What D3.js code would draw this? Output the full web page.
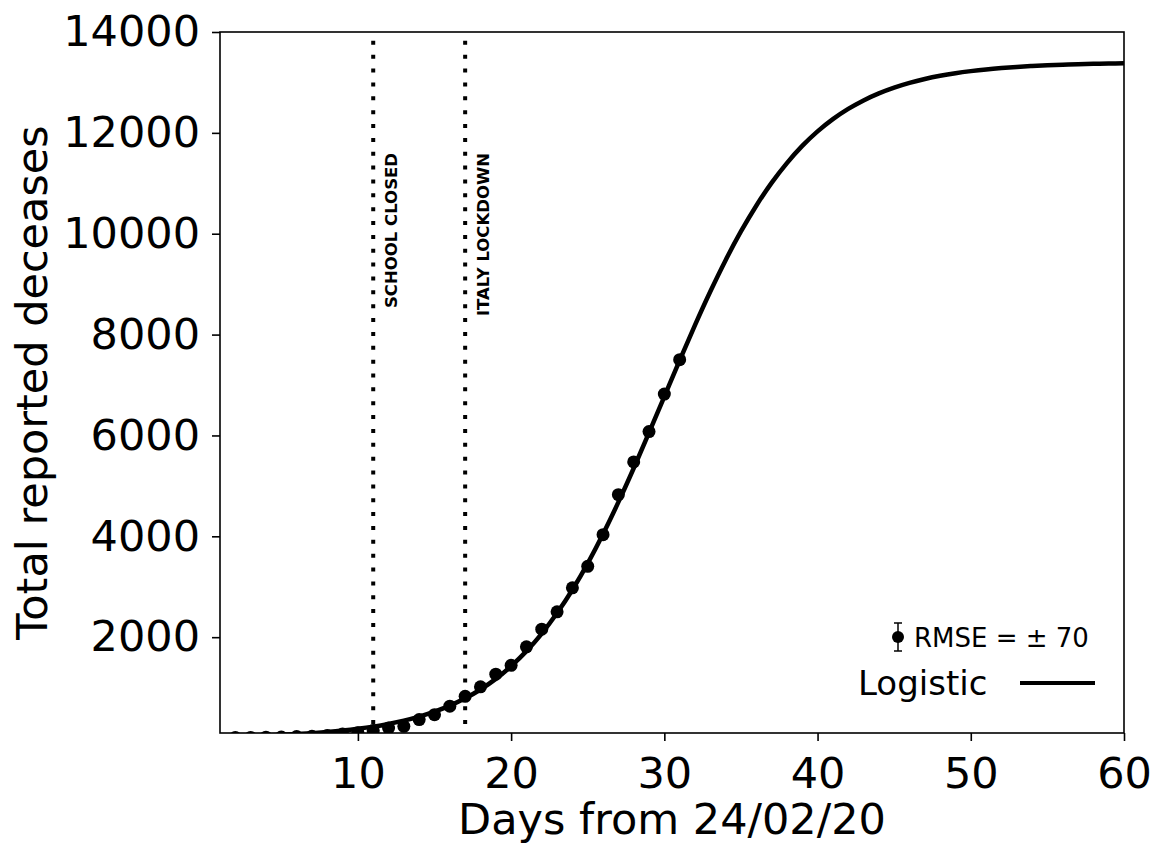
<!DOCTYPE html>
<html>
<head>
<meta charset="utf-8">
<script src="https://cdn.jsdelivr.net/npm/d3@7"></script>
<style>
  html, body { margin: 0; padding: 0; background: #fff; }
  svg { display: block; font-family: "DejaVu Sans", sans-serif; }
</style>
</head>
<body>
<div id="chart"></div>
<script>
// reported deaths, days counted from 24/02/20
const obsDays = [2, 3, 4, 5, 6, 7, 8, 9, 10, 11, 12, 13, 14, 15, 16, 17, 18, 19, 20, 21, 22, 23, 24, 25, 26, 27, 28, 29, 30, 31];
const obsDeaths = [10, 12, 17, 21, 29, 34, 52, 79, 107, 148, 197, 233, 366, 463, 631, 827, 1016, 1266, 1441, 1809, 2158, 2503, 2978, 3405, 4032, 4825, 5476, 6077, 6820, 7503];

// logistic fit
const fitDays = d3.range(1, 61);
const fitValues = [27, 33, 41, 51, 63, 78, 97, 120, 148, 183, 226, 280, 345, 425, 523, 642, 787, 963, 1173, 1426,
  1723, 2072, 2478, 2941, 3464, 4045, 4677, 5350, 6054, 6772, 7489, 8188, 8854, 9476, 10045, 10556, 11008, 11401, 11741, 12029,
  12272, 12475, 12644, 12784, 12898, 12992, 13069, 13132, 13183, 13224, 13258, 13285, 13307, 13325, 13340, 13351, 13361, 13368, 13374, 13379];

const events = [
  { day: 11, label: "SCHOOL CLOSED" },
  { day: 17, label: "ITALY LOCKDOWN" },
];
const xTicks = [10, 20, 30, 40, 50, 60];
const yTicks = [2000, 4000, 6000, 8000, 10000, 12000, 14000];
const rmse = 70;

const width = 1153, height = 845;
const margin = { top: 32, right: 29, bottom: 112, left: 220 };

const svg = d3.select("#chart").append("svg").attr("width", width).attr("height", height);

const x = d3.scaleLinear().domain([1, 60]).range([margin.left, width - margin.right]);
const y = d3.scaleLinear().domain([100, 14000]).range([height - margin.bottom, margin.top]);

svg.append("defs").append("clipPath").attr("id", "plot-clip")
  .append("rect")
  .attr("x", x.range()[0]).attr("y", y.range()[1])
  .attr("width", x.range()[1] - x.range()[0]).attr("height", y.range()[0] - y.range()[1]);

const plot = svg.append("g").attr("clip-path", "url(#plot-clip)");

// event markers
plot.selectAll("line.event")
  .data(events)
  .join("line")
  .attr("class", "event")
  .attr("x1", (d) => x(d.day)).attr("x2", (d) => x(d.day))
  .attr("y1", y.range()[0]).attr("y2", y.range()[1])
  .attr("stroke", "#000")
  .attr("stroke-width", 4)
  .attr("stroke-dasharray", "4 9.86")
  .attr("stroke-dashoffset", 4.86);

svg.selectAll("text.event")
  .data(events)
  .join("text")
  .attr("class", "event")
  .attr("transform", (d) => `translate(${x(d.day) + 24},153) rotate(-90)`)
  .attr("text-anchor", "end")
  .attr("font-size", 16.5)
  .attr("font-weight", "bold")
  .text((d) => d.label);

// fitted curve
const line = d3.line().x((d) => x(d[0])).y((d) => y(d[1])).curve(d3.curveMonotoneX);
plot.append("path")
  .datum(fitDays.map((d, i) => [d, fitValues[i]]))
  .attr("d", line)
  .attr("fill", "none")
  .attr("stroke", "#000")
  .attr("stroke-width", 4.5);

// observations
plot.selectAll("circle.obs")
  .data(obsDays.map((d, i) => [d, obsDeaths[i]]))
  .join("circle")
  .attr("class", "obs")
  .attr("cx", (d) => x(d[0]))
  .attr("cy", (d) => y(d[1]))
  .attr("r", 6.5)
  .attr("fill", "#000");

// axes
const xAxis = svg.append("g")
  .attr("transform", `translate(0,${y.range()[0]})`)
  .call(d3.axisBottom(x).tickValues(xTicks).tickSize(8).tickPadding(16).tickFormat(d3.format("d")));
const yAxis = svg.append("g")
  .attr("transform", `translate(${x.range()[0]},0)`)
  .call(d3.axisLeft(y).tickValues(yTicks).tickSize(8).tickPadding(12).tickFormat(d3.format("d")));

[xAxis, yAxis].forEach((g) => {
  g.select(".domain").remove();
  g.selectAll(".tick line").attr("stroke", "#000").attr("stroke-width", 1.6);
  g.selectAll(".tick text").attr("font-size", 43).attr("font-family", "DejaVu Sans").attr("fill", "#000");
});

svg.append("rect")
  .attr("x", x.range()[0]).attr("y", y.range()[1])
  .attr("width", x.range()[1] - x.range()[0]).attr("height", y.range()[0] - y.range()[1])
  .attr("fill", "none")
  .attr("stroke", "#000")
  .attr("stroke-width", 1.6);

svg.append("text")
  .attr("x", (x.range()[0] + x.range()[1]) / 2)
  .attr("y", 834)
  .attr("text-anchor", "middle")
  .attr("font-size", 43)
  .text("Days from 24/02/20");

svg.append("text")
  .attr("transform", `translate(47,${(y.range()[0] + y.range()[1]) / 2}) rotate(-90)`)
  .attr("text-anchor", "middle")
  .attr("font-size", 43)
  .text("Total reported deceases");

// legend
const leg = svg.append("g");
leg.append("line").attr("x1", 898).attr("x2", 898).attr("y1", 623).attr("y2", 651).attr("stroke", "#000").attr("stroke-width", 1.5);
leg.selectAll("line.cap").data([623, 651]).join("line").attr("class", "cap")
  .attr("x1", 894).attr("x2", 902).attr("y1", (d) => d).attr("y2", (d) => d)
  .attr("stroke", "#000").attr("stroke-width", 1.5);
leg.append("circle").attr("cx", 898).attr("cy", 637).attr("r", 6).attr("fill", "#000");
leg.append("text").attr("x", 914).attr("y", 647).attr("font-size", 26).text(`RMSE = \u00b1 ${rmse}`);
leg.append("text").attr("x", 858).attr("y", 695).attr("font-size", 34).text("Logistic");
leg.append("line").attr("x1", 1020).attr("x2", 1095).attr("y1", 683).attr("y2", 683).attr("stroke", "#000").attr("stroke-width", 4);
</script>
</body>
</html>
